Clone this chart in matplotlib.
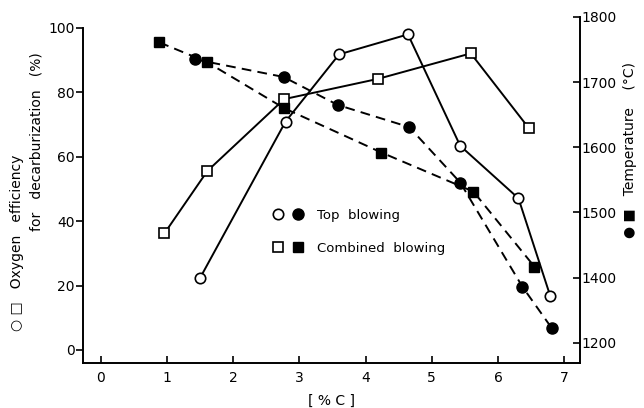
import matplotlib
matplotlib.use("Agg")
import matplotlib.pyplot as plt
from matplotlib.lines import Line2D
from matplotlib.legend_handler import HandlerTuple

# Oxygen efficiency for decarburization (%), left axis
top_eff_x = [1.50, 2.79, 3.60, 4.64, 5.43, 6.31, 6.79]
top_eff_y = [22.4, 70.9, 91.8, 98.0, 63.4, 47.1, 16.8]
comb_eff_x = [0.96, 1.61, 2.77, 4.19, 5.59, 6.47]
comb_eff_y = [36.2, 55.6, 77.9, 84.2, 92.1, 68.8]

# Temperature (axis position units), right axis
top_temp_x = [1.42, 2.76, 3.58, 4.66, 5.43, 6.37, 6.81]
top_temp_y = [1735, 1708, 1665, 1631, 1546, 1386, 1323]
comb_temp_x = [0.885, 1.60, 2.77, 4.24, 5.63, 6.55]
comb_temp_y = [1761, 1731, 1660, 1592, 1532, 1417]

x_ticks = [0, 1, 2, 3, 4, 5, 6, 7]
left_ticks = [0, 20, 40, 60, 80, 100]
right_tick_pos = [1300, 1400, 1500, 1600, 1700, 1800]
right_tick_labels = ['1200', '1400', '1500', '1600', '1700', '1800']

plt.rcParams['font.family'] = ['DejaVu Sans']
fig = plt.figure(figsize=(6.44, 4.08), dpi=100)
W, H = 644, 408
x0, x1, ytop, ybot = 83, 580, 17, 363
ax = fig.add_axes([x0 / W, 1 - ybot / H, (x1 - x0) / W, (ybot - ytop) / H])
ax2 = ax.twinx()

lw = 1.4
dash = (0, (5, 3.2))
ax.plot(top_eff_x, top_eff_y, '-', color='black', lw=lw, marker='o', ms=7.5,
        mfc='white', mec='black', mew=1.2)
ax.plot(comb_eff_x, comb_eff_y, '-', color='black', lw=lw, marker='s', ms=6.5,
        mfc='white', mec='black', mew=1.2)
ax2.plot(top_temp_x, top_temp_y, color='black', lw=lw, ls=dash, marker='o', ms=8,
         mfc='black', mec='black')
ax2.plot(comb_temp_x, comb_temp_y, color='black', lw=lw, ls=dash, marker='s', ms=7,
         mfc='black', mec='black')

ax.set_xlim(-0.27, 7.24)
ax.set_ylim(-4.04, 103.4)
ax2.set_ylim(1269, 1800)

ax.set_xticks(x_ticks)
ax.set_yticks(left_ticks)
ax2.set_yticks(right_tick_pos)
ax2.set_yticklabels(right_tick_labels)

for s in ['top', 'right']:
    ax.spines[s].set_visible(False)
for s in ['top', 'left', 'bottom']:
    ax2.spines[s].set_visible(False)
ax.spines['left'].set_bounds(-4.04, 100)
for a in (ax, ax2):
    for sp in a.spines.values():
        sp.set_linewidth(1.4)

ax.tick_params(axis='x', direction='in', length=5, width=1.2, pad=6, labelsize=10)
ax.tick_params(axis='y', direction='out', length=5, width=1.2, pad=1, labelsize=10)
ax2.tick_params(axis='y', direction='in', length=5, width=1.2, pad=1, labelsize=10)

ax.set_xlabel('[ % C ]', fontsize=10, labelpad=6)

fig.text(17 / W, 1 - 243 / H, '○ □   Oxygen   efficiency', rotation=90,
         ha='center', va='center', fontsize=10)
fig.text(37 / W, 1 - 142 / H, 'for   decarburization   (%)', rotation=90,
         ha='center', va='center', fontsize=10)
fig.text(630 / W, 1 - 150 / H, '● ■   Temperature    (°C)', rotation=90,
         ha='center', va='center', fontsize=10)

h1 = (Line2D([], [], ls='none', marker='o', ms=7.5, mfc='white', mec='black', mew=1.2),
      Line2D([], [], ls='none', marker='o', ms=8, mfc='black', mec='black'))
h2 = (Line2D([], [], ls='none', marker='s', ms=6.5, mfc='white', mec='black', mew=1.2),
      Line2D([], [], ls='none', marker='s', ms=7, mfc='black', mec='black'))
fig.legend([h1, h2], ['Top  blowing', 'Combined  blowing'],
           handler_map={tuple: HandlerTuple(ndivide=None, pad=0.6)},
           loc='upper left', bbox_to_anchor=(272 / W, 1 - 209 / H),
           frameon=False, fontsize=9.5, borderpad=0, handlelength=2.4,
           handletextpad=1.0, labelspacing=1.5, borderaxespad=0)

fig.savefig('out.png', dpi=100)
